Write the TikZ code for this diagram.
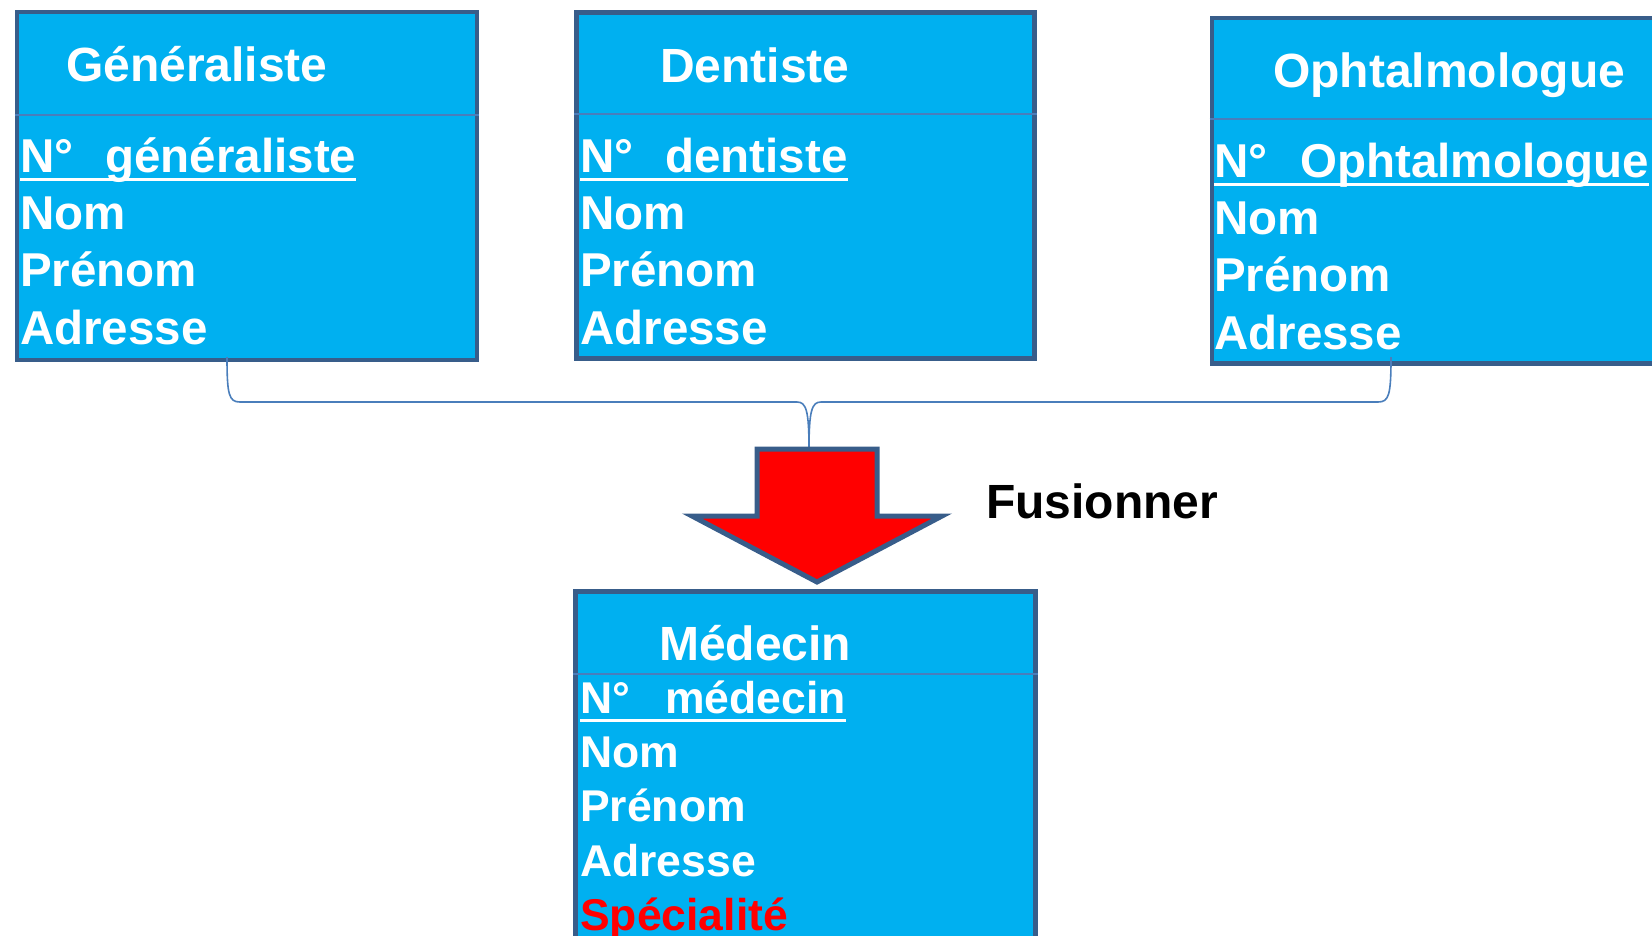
\documentclass[tikz,border=0pt]{standalone}
\usepackage{fontspec}
\setmainfont{Liberation Sans}
\usetikzlibrary{positioning}

\definecolor{cyanbox}{HTML}{00B0F0}
\definecolor{bord}{HTML}{385D8A}
\definecolor{trait}{HTML}{4A7EBB}
\definecolor{rouge}{HTML}{FF0000}

% underlined key attribute
\newsavebox\clebox
\newcommand\cle[1]{\sbox\clebox{#1}\rlap{\rule[-8.5pt]{\wd\clebox}{3pt}}\usebox\clebox}

\begin{document}
\begin{tikzpicture}[x=1pt, y=-1pt,
    boite/.style={draw=bord, fill=cyanbox, line width=4.7pt, anchor=north west, inner sep=0pt},
    titre/.style={anchor=base west, inner sep=0pt, text=white, font=\fontsize{48}{57}\selectfont\bfseries},
    attr/.style={inner sep=0pt, text=white, text height=43pt, text depth=14pt, font=\fontsize{47.5}{57}\selectfont\bfseries},
    attrm/.style={attr, text height=40pt, font=\fontsize{44.5}{54}\selectfont\bfseries},
    sep/.style={draw=trait, line width=2pt},
    accol/.style={draw=trait, line width=1.6pt}]
\useasboundingbox (0,0) rectangle (1652,935);

% --- Generaliste
\node[boite, minimum width=460pt, minimum height=348pt] (gen) at (14.5,9.5) {};
\draw[sep] ([yshift=-105.5pt]gen.north west) -- ([yshift=-105.5pt]gen.north east);
\node[titre] (genT) at (66,81) {Généraliste};
\node[attr, anchor=base west] (gen1) at (20,172) {\cle{N°\hspace{32pt}généraliste}};
\node[attr, below=0mm of gen1.south west, anchor=north west] (gen2) {Nom};
\node[attr, below=0mm of gen2.south west, anchor=north west] (gen3) {Prénom};
\node[attr, below=0mm of gen3.south west, anchor=north west] (gen4) {Adresse};

% --- Dentiste
\node[boite, minimum width=458pt, minimum height=346pt] (den) at (574,10) {};
\draw[sep] ([yshift=-104pt]den.north west) -- ([yshift=-104pt]den.north east);
\node[titre] (denT) at (660,82) {Dentiste};
\node[attr, anchor=base west] (den1) at (580,172) {\cle{N°\hspace{32pt}dentiste}};
\node[attr, below=0mm of den1.south west, anchor=north west] (den2) {Nom};
\node[attr, below=0mm of den2.south west, anchor=north west] (den3) {Prénom};
\node[attr, below=0mm of den3.south west, anchor=north west] (den4) {Adresse};

% --- Ophtalmologue
\node[boite, minimum width=470pt, minimum height=345.5pt] (oph) at (1209.5,15.5) {};
\draw[sep] ([yshift=-103.5pt]oph.north west) -- ([yshift=-103.5pt]oph.north east);
\node[titre] (ophT) at (1273,87) {Ophtalmologue};
\node[attr, anchor=base west] (oph1) at (1214,177) {\cle{N°\hspace{33pt}Ophtalmologue}};
\node[attr, below=0mm of oph1.south west, anchor=north west] (oph2) {Nom};
\node[attr, below=0mm of oph2.south west, anchor=north west] (oph3) {Prénom};
\node[attr, below=0mm of oph3.south west, anchor=north west] (oph4) {Adresse};

% --- bracket and arrow
\coordinate (ag) at (227,357);
\coordinate (ad) at (1391,357);
\coordinate (fl) at (809,449);
\draw[accol] (ag) .. controls (227,395) and (229,402) .. (240,402) -- (797,402)
    .. controls (806,402) and (809,410) .. (fl);
\draw[accol] (ad) .. controls (1391,395) and (1389,402) .. (1378,402) -- (821,402)
    .. controls (812,402) and (809,410) .. (fl);
\draw[draw=bord, fill=rouge, line width=5pt] (757,449) -- (877,449) -- (877,516)
    -- (942,516) -- (817,582) -- (692,516) -- (757,516) -- cycle;
\node[titre, text=black] (fus) at (986,518) {Fusionner};

% --- Medecin
\node[boite, minimum width=460pt, minimum height=370pt] (med) at (573,589) {};
\draw[sep] ([yshift=-85pt]med.north west) -- ([yshift=-85pt]med.north east);
\node[titre] (medT) at (659,660) {Médecin};
\node[attrm, anchor=base west] (med1) at (580,713) {\cle{N°\hspace{35pt}médecin}};
\node[attrm, below=0mm of med1.south west, anchor=north west] (med2) {Nom};
\node[attrm, below=0mm of med2.south west, anchor=north west] (med3) {Prénom};
\node[attrm, below=0mm of med3.south west, anchor=north west] (med4) {Adresse};
\node[attrm, below=0mm of med4.south west, anchor=north west, text=rouge] (med5) {Spécialité};
\end{tikzpicture}
\end{document}
